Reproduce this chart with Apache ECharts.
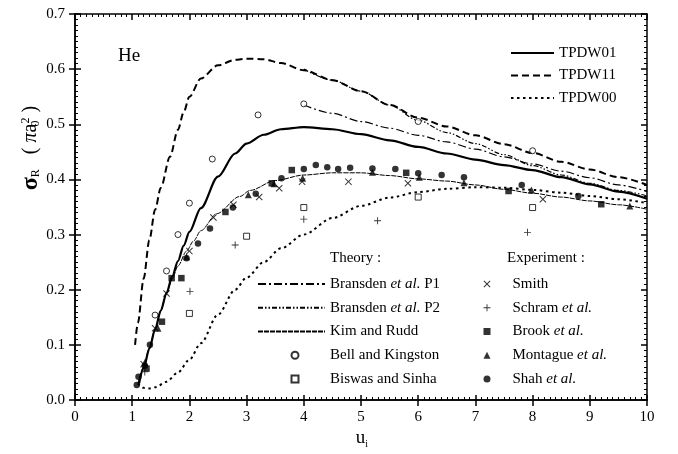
<!DOCTYPE html>
<html><head><meta charset="utf-8">
<script src="https://cdn.jsdelivr.net/npm/echarts@6/dist/echarts.min.js"></script>
<style>html,body{margin:0;padding:0;background:#fff}#c{width:678px;height:454px}</style>
</head><body><div id="c"></div>
<script>
const FONT = 'Liberation Serif';

// ---- theory curves ----
const tpdw01X = [1.12,1.2,1.3,1.4,1.5,1.6,1.7,1.8,1.9,2.0,2.2,2.5,2.8,3.0,3.3,3.6,4.0,4.5,5.0,5.5,6.0,6.5,7.0,7.5,8.0,8.5,9.0,9.5,10];
const tpdw01Y = [0.03,0.058,0.093,0.128,0.162,0.194,0.224,0.252,0.28,0.305,0.348,0.405,0.447,0.465,0.481,0.491,0.495,0.491,0.482,0.471,0.459,0.447,0.436,0.426,0.417,0.404,0.391,0.378,0.365];

const tpdw11X = [1.05,1.1,1.2,1.3,1.4,1.5,1.66,1.8,1.9,2.0,2.2,2.5,2.8,3.0,3.3,3.6,4.0,4.5,5.0,5.5,6.0,6.5,7.0,7.5,8.0,8.5,9.0,9.5,10];
const tpdw11Y = [0.10,0.14,0.22,0.29,0.345,0.385,0.441,0.49,0.522,0.55,0.583,0.607,0.617,0.619,0.618,0.611,0.598,0.58,0.56,0.535,0.512,0.496,0.48,0.464,0.448,0.432,0.418,0.404,0.39];

const tpdw00X = [1.1,1.2,1.3,1.4,1.6,1.8,2.0,2.2,2.5,2.8,3.0,3.3,3.6,4.0,4.5,5.0,5.5,6.0,6.5,7.0,7.5,8.0,8.5,9.0,9.5,10];
const tpdw00Y = [0.03,0.022,0.021,0.023,0.033,0.05,0.073,0.103,0.155,0.2,0.222,0.25,0.275,0.3,0.33,0.352,0.367,0.377,0.383,0.386,0.385,0.381,0.376,0.37,0.364,0.357];

const p1X = [4.0,4.5,5.0,5.5,6.0,6.5,7.0,7.5,8.0,8.5,9.0,9.5,10];
const p1Y = [0.535,0.52,0.505,0.493,0.48,0.468,0.455,0.441,0.428,0.415,0.403,0.39,0.378];

const p2X = [4.0,4.5,5.0,5.5,6.0,6.5,7.0,7.5,8.0,8.5,9.0,9.5,10];
const p2Y = [0.6,0.58,0.56,0.535,0.507,0.485,0.465,0.445,0.425,0.408,0.393,0.38,0.37];

const kimX = [1.1,1.2,1.3,1.4,1.5,1.6,1.7,1.8,1.95,2.07,2.2,2.48,2.88,3.06,3.5,4.0,4.5,5.0,5.5,6.0,6.5,7.0,7.5,8.0,8.5,9.0,9.5,10];
const kimY = [0.03,0.06,0.095,0.128,0.162,0.193,0.22,0.243,0.27,0.288,0.307,0.338,0.369,0.38,0.398,0.408,0.412,0.412,0.407,0.401,0.397,0.39,0.382,0.375,0.368,0.361,0.354,0.346];

// ---- theory points ----
const bellX = [1.40,1.60,1.80,2.00,2.40,3.20,4.00,6.00,8.00];
const bellY = [0.154,0.234,0.300,0.357,0.437,0.517,0.537,0.505,0.452];
const biswasX = [2.0,3.0,4.0,6.0,8.0];
const biswasY = [0.157,0.297,0.349,0.368,0.349];

// ---- experiments ----
const smithX = [1.2,1.4,1.6,2.0,2.42,2.77,3.22,3.57,3.97,4.78,5.82,8.18];
const smithY = [0.065,0.13,0.193,0.27,0.331,0.354,0.368,0.384,0.396,0.396,0.393,0.364];
const schramX = [1.22,2.01,2.8,4.0,5.29,7.91];
const schramY = [0.051,0.197,0.281,0.328,0.325,0.304];
const brookX = [1.25,1.52,1.69,1.86,2.63,3.44,3.79,5.79,7.58,9.2];
const brookY = [0.057,0.142,0.221,0.221,0.341,0.393,0.417,0.412,0.379,0.355];
const montX = [1.22,1.45,1.95,3.03,3.48,3.98,5.2,6.02,6.8,7.98,9.7];
const montY = [0.068,0.13,0.26,0.372,0.392,0.402,0.413,0.404,0.394,0.381,0.352];
const shahX = [1.08,1.11,1.22,1.31,1.95,2.15,2.36,2.76,3.16,3.61,4.0,4.21,4.41,4.6,4.81,5.2,5.6,6.0,6.41,6.8,7.81,8.8];
const shahY = [0.027,0.042,0.062,0.10,0.257,0.284,0.311,0.349,0.374,0.402,0.419,0.426,0.422,0.419,0.421,0.42,0.419,0.411,0.408,0.404,0.39,0.37];

// tick labels
const xTicks = ['0','1','2','3','4','5','6','7','8','9','10'];
const yTicks = ['0.0','0.1','0.2','0.3','0.4','0.5','0.6','0.7'];

const zip = (xs, ys) => xs.map((x, i) => [x, ys[i]]);
const CROSS = 'path://M0,1L1,0L5,4L9,0L10,1L6,5L10,9L9,10L5,6L1,10L0,9L4,5Z';
const PLUS = 'path://M4.35,0H5.65V4.35H10V5.65H5.65V10H4.35V5.65H0V4.35H4.35Z';

function lineSeries(name, xs, ys, width, type) {
  return { name, type: 'line', data: zip(xs, ys), symbol: 'none', smooth: 0.3, smoothMonotone: 'x',
    lineStyle: { color: '#000', width, type }, itemStyle: { color: '#000' }, z: 3, silent: true };
}
function scatterSeries(name, xs, ys, symbol, size, filled) {
  return { name, type: 'scatter', data: zip(xs, ys), symbol, symbolSize: size,
    itemStyle: filled ? { color: '#000' } : { color: '#fff', borderColor: '#000', borderWidth: 1 }, z: 5, silent: true };
}

const chart = echarts.init(document.getElementById('c'));
const axBase = { type: 'value', splitLine: { show: false }, axisLabel: { show: false },
  axisLine: { show: true, onZero: false, lineStyle: { color: '#000', width: 1.5 } } };
const lbl = { fontFamily: FONT, fontSize: 15, color: '#000' };

const rich = {
  n: { fontFamily: FONT, fontSize: 15, color: '#000' },
  i: { fontFamily: FONT, fontSize: 15, color: '#000', fontStyle: 'italic' },
  g: { width: 17 },
  t: { width: 26.5 }
};
const hidden = { opacity: 0, color: 'rgba(0,0,0,0)', borderWidth: 0 };
const lineItem = (name) => ({ name, itemStyle: hidden });
const fmt = (n) => n.indexOf('et al.') >= 0
  ? '{n|' + n.split('et al.')[0] + '}{i|et al.}{n|' + n.split('et al.')[1] + '}'
  : '{n|' + n + '}';
const legText = { fontFamily: FONT, fontSize: 15, color: '#000', lineHeight: 16, rich };

const option = {
  backgroundColor: '#fff',
  animation: false,
  grid: { left: 75, right: 31, top: 14, bottom: 54, containLabel: false },
  xAxis: [
    Object.assign({}, axBase, { min: 0, max: 10, interval: 1, position: 'bottom',
      axisTick: { show: true, inside: false, length: 6, lineStyle: { color: '#000', width: 1.5 } },
      axisLabel: Object.assign({ show: true, margin: 10, formatter: (v) => xTicks[Math.round(v)] }, lbl),
      minorTick: { show: false } }),
    Object.assign({}, axBase, { min: 0, max: 10, interval: 1, position: 'bottom',
      axisTick: { show: true, inside: true, length: 5, lineStyle: { color: '#000', width: 1.5 } },
      minorTick: { show: true, splitNumber: 10, length: 3, lineStyle: { color: '#000', width: 1 } } }),
    Object.assign({}, axBase, { min: 0, max: 10, interval: 1, position: 'top',
      axisTick: { show: true, inside: true, length: 6, lineStyle: { color: '#000', width: 1.5 } },
      minorTick: { show: true, splitNumber: 10, length: 3, lineStyle: { color: '#000', width: 1 } } })
  ],
  yAxis: [
    Object.assign({}, axBase, { min: 0, max: 0.7, interval: 0.1, position: 'left',
      axisTick: { show: true, inside: false, length: 6, lineStyle: { color: '#000', width: 1.5 } },
      axisLabel: Object.assign({ show: true, margin: 10, formatter: (v) => yTicks[Math.round(v * 10)] }, lbl),
      minorTick: { show: false } }),
    Object.assign({}, axBase, { min: 0, max: 0.7, interval: 0.1, position: 'left',
      axisTick: { show: true, inside: true, length: 6, lineStyle: { color: '#000', width: 1.5 } },
      minorTick: { show: true, splitNumber: 10, length: 3, lineStyle: { color: '#000', width: 1 } } }),
    Object.assign({}, axBase, { min: 0, max: 0.7, interval: 0.1, position: 'right',
      axisTick: { show: true, inside: true, length: 6, lineStyle: { color: '#000', width: 1.5 } },
      minorTick: { show: true, splitNumber: 10, length: 3, lineStyle: { color: '#000', width: 1 } } })
  ],
  legend: [
    { data: ['TPDW01', 'TPDW11', 'TPDW00'].map(lineItem), orient: 'vertical', left: 505, top: 40,
      itemWidth: 43, itemHeight: 12, itemGap: 6.5, textStyle: legText, selectedMode: false },
    { data: ['Bransden et al. P1', 'Bransden et al. P2', 'Kim and Rudd'].map(lineItem),
      orient: 'vertical', left: 252, top: 271, itemWidth: 67, itemHeight: 7, itemGap: 7.75, selectedMode: false,
      textStyle: legText, formatter: fmt },
    { data: ['Bell and Kingston', 'Biswas and Sinha'],
      orient: 'vertical', left: 285.5, top: 271 + 3 * 23.75, itemWidth: 7, itemHeight: 7, itemGap: 7.75, selectedMode: false,
      textStyle: legText, formatter: (n) => '{t|}' + fmt(n) },
    { data: ['Smith', 'Schram et al.', 'Brook et al.', 'Montague et al.', 'Shah et al.'],
      orient: 'vertical', left: 478.5, top: 271, itemWidth: 7, itemHeight: 7, itemGap: 7.75, selectedMode: false,
      textStyle: legText, formatter: (n) => '{g|}' + fmt(n) }
  ],
  graphic: [
    { type: 'text', left: 118, top: 47, style: { text: 'He', fontFamily: FONT, fontSize: 19, fill: '#000' } },
    { type: 'text', left: 330, top: 251, style: { text: 'Theory :', fontFamily: FONT, fontSize: 15, fill: '#000' } },
    { type: 'text', left: 507, top: 251, style: { text: 'Experiment :', fontFamily: FONT, fontSize: 15, fill: '#000' } },
    { type: 'text', x: 31, y: 148, rotation: Math.PI / 2,
      style: { text: '{b|σ}{s|R}{n|   ( }{i|π}{n|a}{z|0}{p|2}{n| )}', align: 'center', verticalAlign: 'middle',
        rich: {
          b: { fontFamily: FONT, fontSize: 24, fontWeight: 'bold', fill: '#000', lineHeight: 22, verticalAlign: 'middle' },
          n: { fontFamily: FONT, fontSize: 20, fill: '#000', lineHeight: 22, verticalAlign: 'middle' },
          i: { fontFamily: FONT, fontSize: 20, fontStyle: 'italic', fill: '#000', lineHeight: 22, verticalAlign: 'middle' },
          s: { fontFamily: FONT, fontSize: 12, fill: '#000', lineHeight: 12, verticalAlign: 'bottom' },
          z: { fontFamily: FONT, fontSize: 12, fill: '#000', lineHeight: 12, verticalAlign: 'bottom', width: 0.1 },
          p: { fontFamily: FONT, fontSize: 12, fill: '#000', lineHeight: 12, verticalAlign: 'top' }
        } } },
    { type: 'text', x: 362, y: 438, style: { text: '{n|u}{s|i}', align: 'center', verticalAlign: 'middle',
        rich: {
          n: { fontFamily: FONT, fontSize: 19, fill: '#000', lineHeight: 22, verticalAlign: 'middle' },
          s: { fontFamily: FONT, fontSize: 10, fill: '#000', lineHeight: 10, verticalAlign: 'bottom' }
        } } }
  ],
  series: [
    lineSeries('TPDW01', tpdw01X, tpdw01Y, 2.2, 'solid'),
    lineSeries('TPDW11', tpdw11X, tpdw11Y, 2, [7, 4]),
    lineSeries('TPDW00', tpdw00X, tpdw00Y, 2, [2.5, 3.5]),
    lineSeries('Bransden et al. P1', p1X, p1Y, 1.2, [8, 3, 2, 3]),
    lineSeries('Bransden et al. P2', p2X, p2Y, 1.2, [5, 2, 1.5, 2, 1.5, 2]),
    lineSeries('Kim and Rudd', kimX, kimY, 1, [5, 1]),
    scatterSeries('Bell and Kingston', bellX, bellY, 'circle', 6, false),
    scatterSeries('Biswas and Sinha', biswasX, biswasY, 'rect', 6, false),
    scatterSeries('Smith', smithX, smithY, CROSS, 7, true),
    scatterSeries('Schram et al.', schramX, schramY, PLUS, 7, true),
    scatterSeries('Brook et al.', brookX, brookY, 'rect', 6.5, true),
    scatterSeries('Montague et al.', montX, montY, 'triangle', 7, true),
    scatterSeries('Shah et al.', shahX, shahY, 'circle', 6.5, true)
  ]
};
chart.setOption(option);
</script>
</body></html>
